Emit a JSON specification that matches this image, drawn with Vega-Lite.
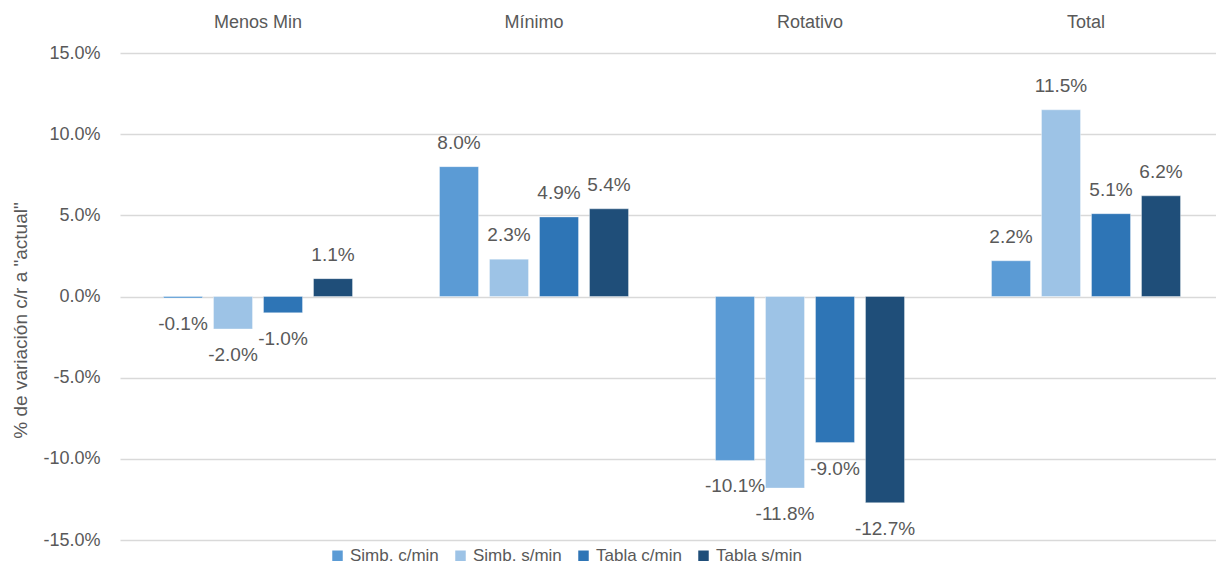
{
  "$schema": "https://vega.github.io/schema/vega-lite/v6.json",
  "width": 1096,
  "height": 487,
  "autosize": {"type": "none"},
  "padding": {"left": 120, "top": 53, "right": 0, "bottom": 28},
  "background": "#ffffff",
  "config": {
    "locale": {"number": {"decimal": ".", "thousands": ",", "grouping": [3], "currency": ["$", ""], "minus": "-"}},
    "view": {"stroke": null},
    "font": "Liberation Sans",
    "axis": {"labelColor": "#595959", "titleColor": "#595959", "labelFont": "Liberation Sans", "titleFont": "Liberation Sans"},
    "legend": {"labelColor": "#595959", "labelFont": "Liberation Sans"}
  },
  "data": {
    "values": [
      {"cat": "Menos Min", "serie": "Simb. c/min", "v": -0.001},
      {"cat": "Menos Min", "serie": "Simb. s/min", "v": -0.020},
      {"cat": "Menos Min", "serie": "Tabla c/min", "v": -0.010},
      {"cat": "Menos Min", "serie": "Tabla s/min", "v": 0.011},
      {"cat": "Mínimo", "serie": "Simb. c/min", "v": 0.080},
      {"cat": "Mínimo", "serie": "Simb. s/min", "v": 0.023},
      {"cat": "Mínimo", "serie": "Tabla c/min", "v": 0.049},
      {"cat": "Mínimo", "serie": "Tabla s/min", "v": 0.054},
      {"cat": "Rotativo", "serie": "Simb. c/min", "v": -0.101},
      {"cat": "Rotativo", "serie": "Simb. s/min", "v": -0.118},
      {"cat": "Rotativo", "serie": "Tabla c/min", "v": -0.090},
      {"cat": "Rotativo", "serie": "Tabla s/min", "v": -0.127},
      {"cat": "Total", "serie": "Simb. c/min", "v": 0.022},
      {"cat": "Total", "serie": "Simb. s/min", "v": 0.115},
      {"cat": "Total", "serie": "Tabla c/min", "v": 0.051},
      {"cat": "Total", "serie": "Tabla s/min", "v": 0.062}
    ]
  },
  "encoding": {
    "x": {
      "field": "cat", "type": "nominal",
      "sort": ["Menos Min", "Mínimo", "Rotativo", "Total"],
      "scale": {"range": [0, 1104], "paddingInner": 0, "paddingOuter": 0},
      "axis": {"orient": "top", "title": null, "ticks": false, "domain": false, "labelAngle": 0, "labelFontSize": 18, "labelPadding": 22, "labelBaseline": "bottom"}
    },
    "xOffset": {
      "field": "serie", "type": "nominal",
      "sort": ["Simb. c/min", "Simb. s/min", "Tabla c/min", "Tabla s/min"],
      "scale": {"paddingInner": 0.22, "paddingOuter": 0.87}
    },
    "y": {
      "field": "v", "type": "quantitative",
      "scale": {"domain": [-0.15, 0.15], "nice": false, "zero": true},
      "axis": {
        "values": [-0.15, -0.1, -0.05, 0, 0.05, 0.1, 0.15],
        "format": ".1%", "labelFontSize": 18, "labelPadding": 20, "ticks": false, "domain": false,
        "gridColor": "#d9d9d9", "gridWidth": 1.3,
        "title": "% de variación c/r a \"actual\"", "titleFontSize": 19, "titleFontWeight": "normal",
        "titleAngle": -90, "titleX": -100, "titleY": 267, "titleAlign": "center", "titleBaseline": "middle"
      }
    }
  },
  "layer": [
    {
      "mark": {"type": "bar", "stroke": "#ffffff", "strokeOpacity": 0.35, "strokeWidth": 1},
      "encoding": {
        "color": {
          "field": "serie", "type": "nominal",
          "sort": ["Simb. c/min", "Simb. s/min", "Tabla c/min", "Tabla s/min"],
          "scale": {"domain": ["Simb. c/min", "Simb. s/min", "Tabla c/min", "Tabla s/min"], "range": ["#5b9bd5", "#9dc3e6", "#2e75b6", "#1f4e79"]},
          "legend": {
            "title": null, "orient": "none", "direction": "horizontal",
            "legendX": 209, "legendY": 494,
            "symbolType": "square", "symbolSize": 110, "symbolStrokeWidth": 0,
            "labelFontSize": 17, "labelOffset": 4, "columnPadding": 13
          }
        }
      }
    },
    {
      "transform": [{"filter": "datum.v >= 0"}],
      "mark": {"type": "text", "baseline": "middle", "dy": -24, "fontSize": 19, "color": "#595959"},
      "encoding": {"text": {"field": "v", "type": "quantitative", "format": ".1%"}}
    },
    {
      "transform": [{"filter": "datum.v < 0"}],
      "mark": {"type": "text", "baseline": "middle", "dy": 26, "fontSize": 19, "color": "#595959"},
      "encoding": {"text": {"field": "v", "type": "quantitative", "format": ".1%"}}
    }
  ]
}
